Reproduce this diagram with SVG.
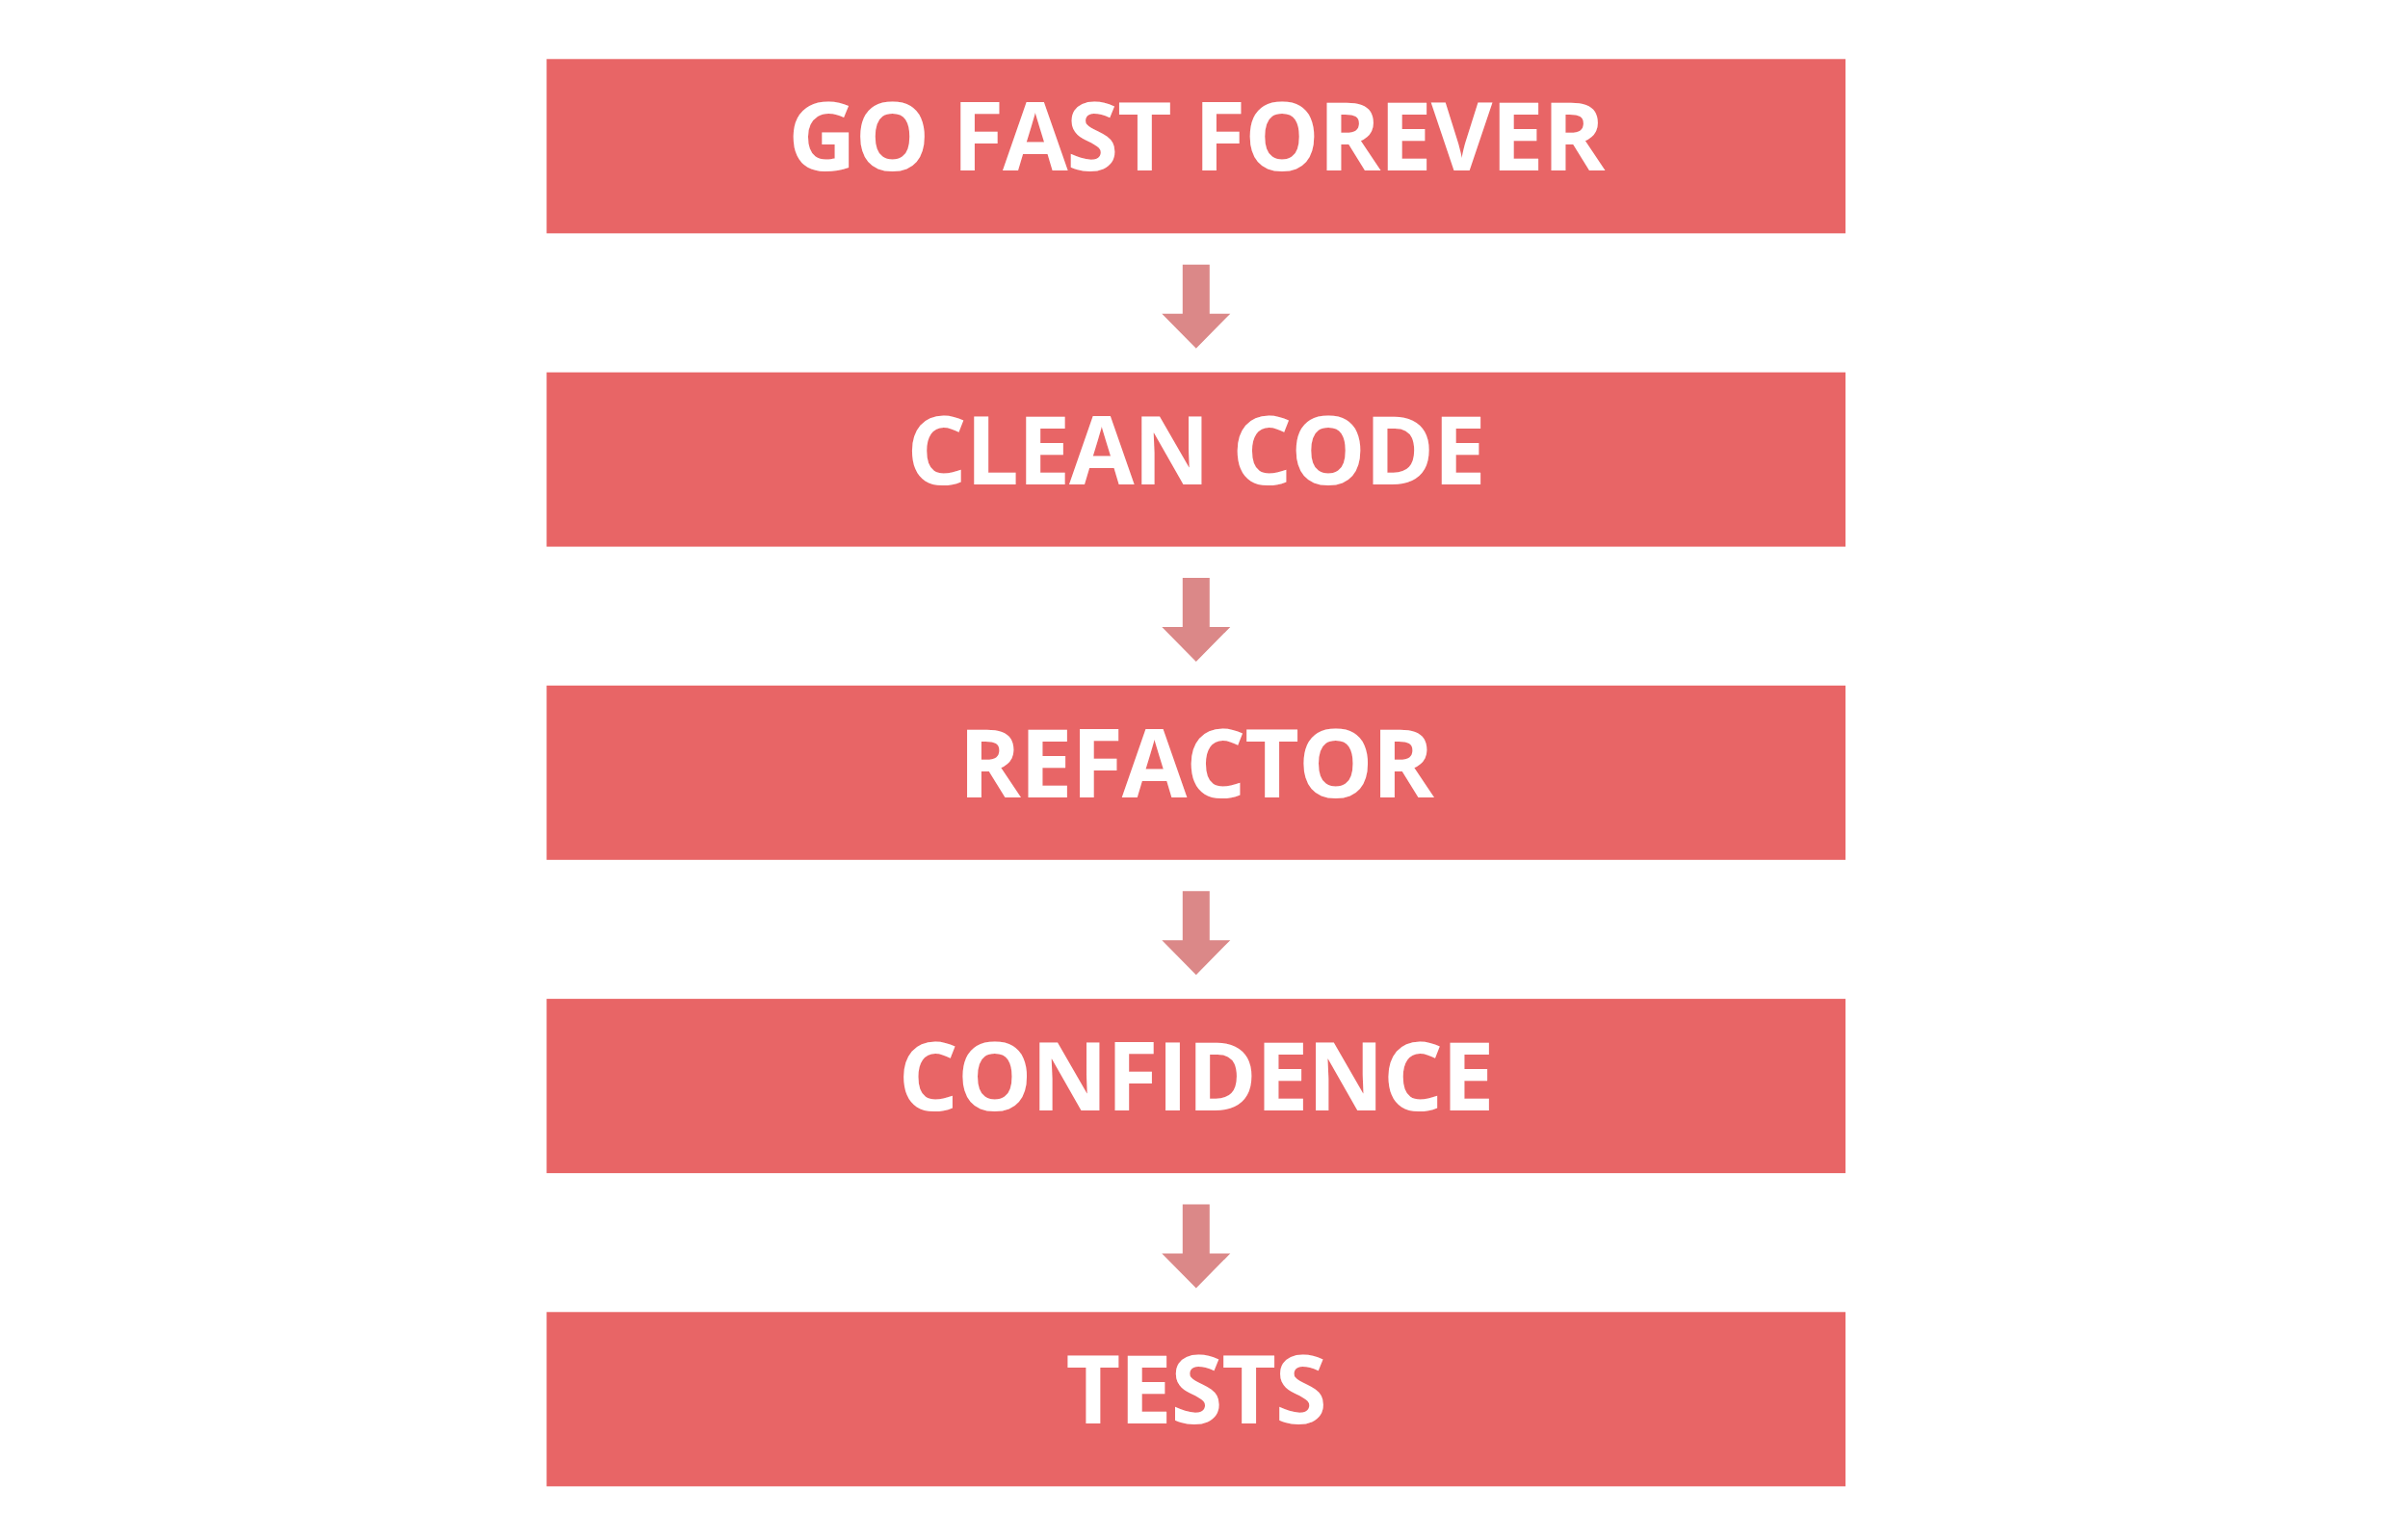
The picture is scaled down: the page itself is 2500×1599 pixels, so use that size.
<svg xmlns="http://www.w3.org/2000/svg" width="2500" height="1599" viewBox="0 0 2500 1599">
<style>
.box{fill:#E86566}
.lbl{fill:#FFFFFF;font-family:"Open Sans","DejaVu Sans",sans-serif;font-weight:700;font-size:98px;letter-spacing:-1.3px;text-anchor:middle}
.arr{fill:#DB8888}
</style>
<defs>
<path id="arrow" d="M-14,0 H14 V51 H35.5 L0,87 L-35.5,51 H-14 Z"/>
</defs>
<rect width="2500" height="1599" fill="#FFFFFF"/>
<g id="node-go-fast-forever"><rect class="box" x="567.5" y="61.3" width="1348.5" height="181"/><text class="lbl" x="1241.5" y="177.3">GO FAST FOREVER</text></g>
<g id="node-clean-code"><rect class="box" x="567.5" y="386.6" width="1348.5" height="181"/><text class="lbl" x="1241.5" y="502.6">CLEAN CODE</text></g>
<g id="node-refactor"><rect class="box" x="567.5" y="711.8" width="1348.5" height="181"/><text class="lbl" x="1241.5" y="827.8">REFACTOR</text></g>
<g id="node-confidence"><rect class="box" x="567.5" y="1037.1" width="1348.5" height="181"/><text class="lbl" x="1241.5" y="1153.1">CONFIDENCE</text></g>
<g id="node-tests"><rect class="box" x="567.5" y="1362.3" width="1348.5" height="181"/><text class="lbl" x="1241.5" y="1478.3">TESTS</text></g>
<g id="connectors">
<use class="arr" href="#arrow" x="1241.8" y="274.7"/>
<use class="arr" href="#arrow" x="1241.8" y="600"/>
<use class="arr" href="#arrow" x="1241.8" y="925.2"/>
<use class="arr" href="#arrow" x="1241.8" y="1250.5"/>
</g>
</svg>
